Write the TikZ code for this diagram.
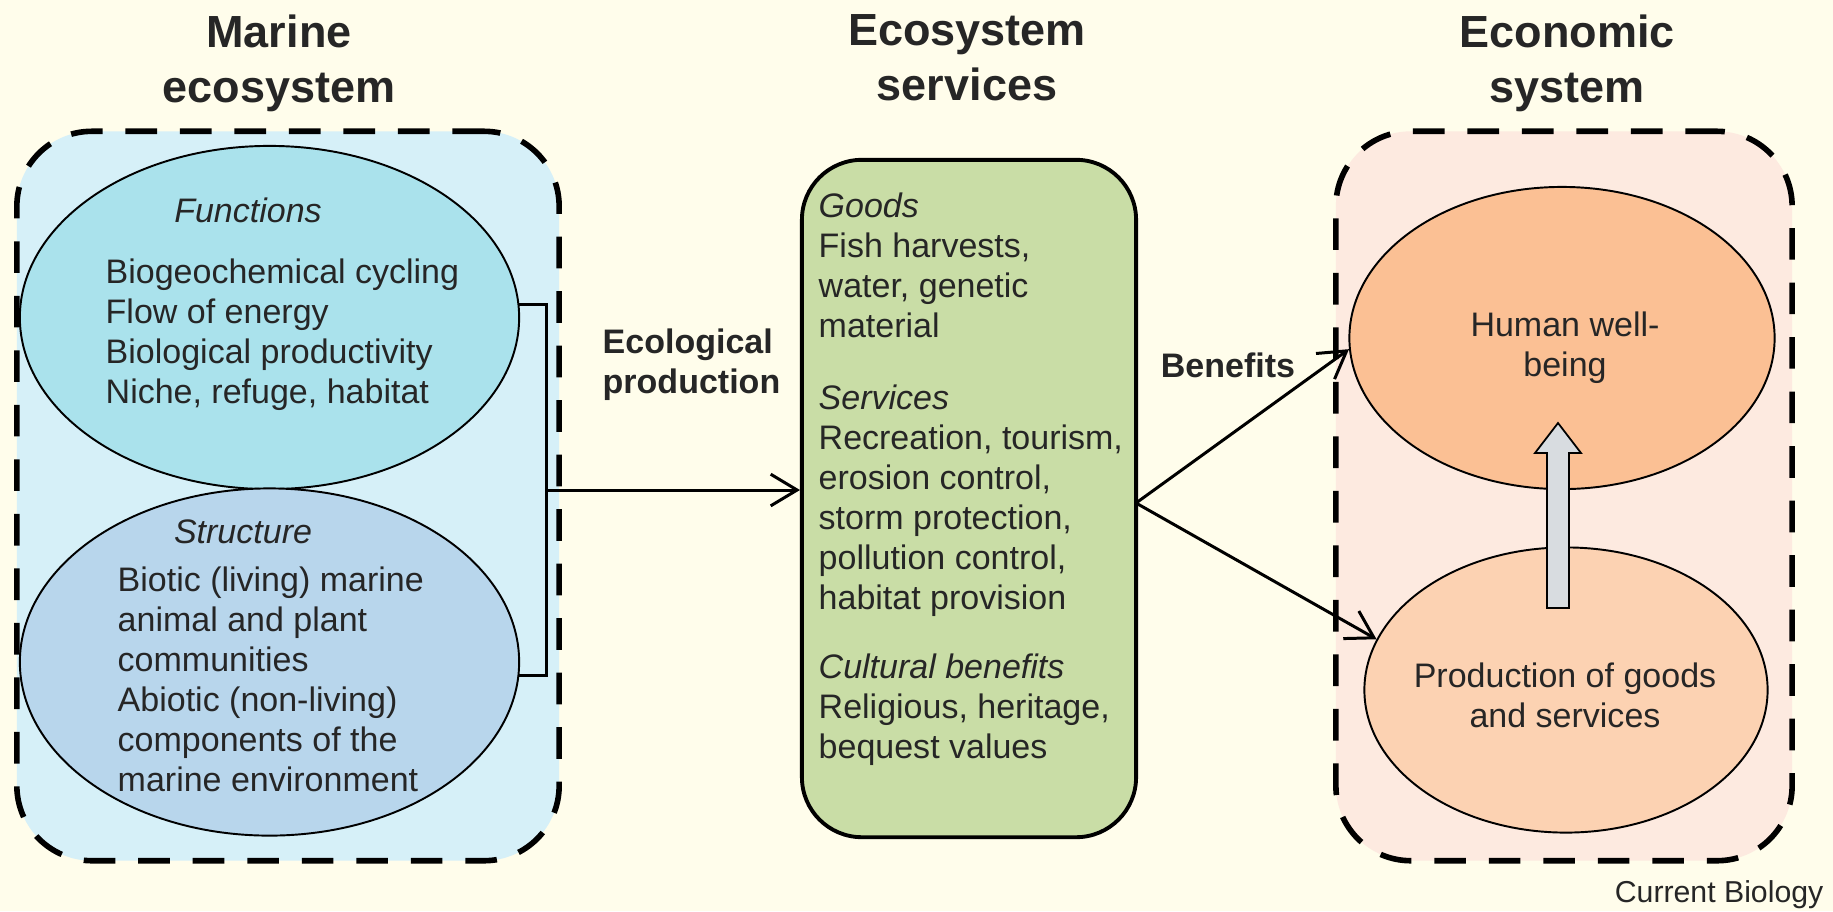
\documentclass[tikz,border=0pt]{standalone}
\usepackage{fontspec}
\setmainfont{Liberation Sans}
\usetikzlibrary{arrows.meta,calc,shapes.geometric}
\definecolor{bgc}{HTML}{FFFDEB}
\definecolor{lboxc}{HTML}{D6F0F8}
\definecolor{funcc}{HTML}{AAE2EC}
\definecolor{strc}{HTML}{B8D6EC}
\definecolor{greenc}{HTML}{C9DDA6}
\definecolor{rboxc}{HTML}{FDEAE0}
\definecolor{humc}{HTML}{FBC094}
\definecolor{prodc}{HTML}{FCD2B2}
\definecolor{grayarr}{HTML}{D8DCE0}
\definecolor{txtc}{HTML}{262626}
\newcommand\myfs{\fontsize{9.67pt}{11.4pt}\selectfont}
\newcommand\myttl{\fontsize{12.8pt}{15.6pt}\selectfont\bfseries}
\begin{document}
\begin{tikzpicture}[x=0.01cm,y=-0.01cm,
  dbox/.style={draw=black, line width=1.6pt, dash pattern=on 9pt off 6.5pt, rounded corners=0.75cm, inner sep=0pt},
  ell/.style={ellipse, draw=black, line width=0.55pt, inner sep=0pt},
  txt/.style={font=\myfs, text=txtc, inner sep=0pt, align=left},
  hdr/.style={font=\myfs\itshape, text=txtc, inner sep=0pt},
  ttl/.style={font=\myttl, text=txtc, inner sep=0pt, align=center},
  lbl/.style={font=\myfs\bfseries, text=txtc, inner sep=0pt, align=left},
  arr/.style={line width=0.85pt, -{Straight Barb[length=7.5pt,width=9pt,line width=0.85pt]}},
  garrow/.style={draw=black, line width=0.5pt, fill=grayarr}]
\useasboundingbox (0,0) rectangle (1833,911);
\fill[bgc] (0,0) rectangle (1833,911);

% titles
\node[ttl, anchor=north] (t1) at (279,14) {Marine\\ecosystem};
\node[ttl, anchor=north] (t2) at (967,14) {Ecosystem\\services};
\node[ttl, anchor=north] (t3) at (1567,14) {Economic\\system};

% containers
\node[dbox, fill=lboxc, minimum width=5.42cm, minimum height=7.29cm] (lbox) at (288,496) {};
\node[dbox, fill=rboxc, minimum width=4.56cm, minimum height=7.29cm] (rbox) at (1564,496) {};
\node[draw=black, line width=1.1pt, fill=greenc, rounded corners=0.6cm, minimum width=3.34cm, minimum height=6.77cm, inner sep=0pt] (gs) at (969,498.5) {};

% ellipses
\node[ell, fill=funcc, minimum width=4.99cm, minimum height=3.43cm] (fun) at (269.5,317.5) {};
\node[ell, fill=strc, minimum width=4.99cm, minimum height=3.47cm] (str) at (269.5,662) {};
\node[ell, fill=humc, minimum width=4.25cm, minimum height=3.02cm] (hw) at (1562,338) {};
\node[ell, fill=prodc, minimum width=4.03cm, minimum height=2.85cm] (pg) at (1566,690) {};

% ellipse texts
\node[hdr, anchor=north] (fh) at (248,197) {Functions};
\node[txt, anchor=north west] (fl) at (105,258) {Biogeochemical cycling\\Flow of energy\\Biological productivity\\Niche, refuge, habitat};
\node[hdr, anchor=north] (sh) at (243,519) {Structure};
\node[txt, anchor=north west] (sl) at (117,566) {Biotic (living) marine\\animal and plant\\communities\\Abiotic (non-living)\\components of the\\marine environment};
\node[txt, anchor=north, align=center] (hwt) at (1565,311) {Human well-\\being};
\node[txt, anchor=north, align=center] (pgt) at (1565,662) {Production of goods\\and services};

% green box texts
\node[txt, anchor=north west] (g1) at (818,192) {\textit{Goods}\\Fish harvests,\\water, genetic\\material};
\node[txt, anchor=north west] (g2) at (818,384) {\textit{Services}\\Recreation, tourism,\\erosion control,\\storm protection,\\pollution control,\\habitat provision};
\node[txt, anchor=north west] (g3) at (818,653) {\textit{Cultural benefits}\\Religious, heritage,\\bequest values};

% labels
\node[lbl, anchor=north west] (ep) at (602,328) {Ecological\\production};
\node[lbl, anchor=north] (ben) at (1228,352) {Benefits};
\node[font=\fontsize{8.6pt}{10pt}\selectfont, text=txtc, inner sep=0pt, anchor=base east] (cb) at (1824,902) {Current Biology};

% bracket and arrows
\coordinate (brk) at (546,490);
\draw[line width=0.85pt] (fun.3.5) -| (brk) |- (str.-3.7);
\draw[arr] (brk) -- (brk -| gs.west);
\coordinate (gsr) at (1136,503);
\draw[arr] (gsr) -- (hw.183);
\draw[arr] (gsr) -- (pg.165);

% block arrow
\coordinate (gat) at (1558,423);
\coordinate (gab) at (1558,608);
\draw[garrow] ($(gab)+(-11,0)$) -- ($(gat)+(-11,30)$) -- ($(gat)+(-23,30)$) -- (gat) -- ($(gat)+(23,30)$) -- ($(gat)+(11,30)$) -- ($(gab)+(11,0)$) -- cycle;
\end{tikzpicture}
\end{document}
